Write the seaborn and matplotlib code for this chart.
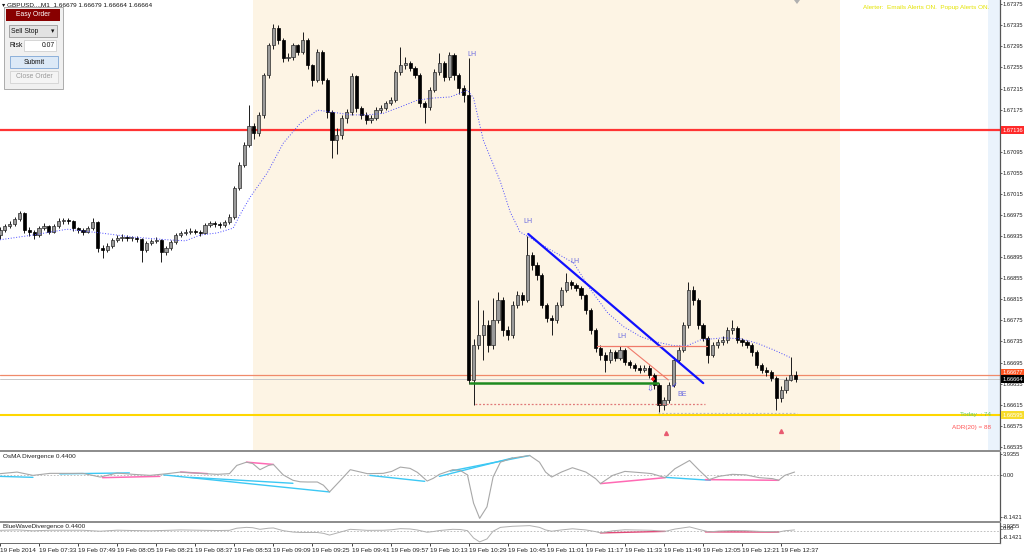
import numpy as np
import pandas as pd
import matplotlib
matplotlib.use("Agg")
import matplotlib.pyplot as plt
import matplotlib.transforms as mtrans
from matplotlib.patches import Rectangle, Polygon
import seaborn as sns

sns.set_style("white")
plt.rcParams['font.family'] = ['Liberation Sans', 'DejaVu Sans']
FS = 4.6
YFS = 4.15

# ---------------- data ----------------
bar_step = 2  # minutes per candle, time measured from 07:17
first_open = 1.66937
closes = [1.66947, 1.66954, 1.66958, 1.66967, 1.66979, 1.66947, 1.66943, 1.66937, 1.66950, 1.66954,
          1.66943, 1.66954, 1.66964, 1.66966, 1.66964, 1.66950, 1.66947, 1.66943, 1.66950, 1.66962,
          1.66912, 1.66909, 1.66916, 1.66928, 1.66931, 1.66933, 1.66931, 1.66931, 1.66929, 1.66909,
          1.66922, 1.66926, 1.66928, 1.66905, 1.66912, 1.66924, 1.66937, 1.66941, 1.66943, 1.66945,
          1.66943, 1.66941, 1.66956, 1.66960, 1.66958, 1.66956, 1.66962, 1.66971, 1.67026, 1.67070,
          1.67108, 1.67144, 1.67130, 1.67165, 1.67240, 1.67297, 1.67330, 1.67307, 1.67273, 1.67275,
          1.67297, 1.67284, 1.67307, 1.67259, 1.67231, 1.67284, 1.67231, 1.67170, 1.67117, 1.67127,
          1.67159, 1.67170, 1.67238, 1.67178, 1.67165, 1.67155, 1.67159, 1.67174, 1.67178, 1.67187,
          1.67193, 1.67246, 1.67259, 1.67263, 1.67254, 1.67240, 1.67187, 1.67180, 1.67212, 1.67246,
          1.67263, 1.67237, 1.67278, 1.67240, 1.67216, 1.67202, 1.66662, 1.66728, 1.66747, 1.66766,
          1.66728, 1.66776, 1.66814, 1.66757, 1.66747, 1.66804, 1.66823, 1.66814, 1.66899, 1.66880,
          1.66861, 1.66804, 1.66780, 1.66776, 1.66804, 1.66833, 1.66848, 1.66842, 1.66837, 1.66823,
          1.66795, 1.66757, 1.66723, 1.66710, 1.66700, 1.66715, 1.66704, 1.66719, 1.66696, 1.66691,
          1.66685, 1.66681, 1.66685, 1.66672, 1.66653, 1.66615, 1.66624, 1.66653, 1.66700, 1.66719,
          1.66766, 1.66833, 1.66814, 1.66766, 1.66742, 1.66710, 1.66728, 1.66734, 1.66738, 1.66757,
          1.66761, 1.66738, 1.66734, 1.66728, 1.66715, 1.66691, 1.66681, 1.66677, 1.66666, 1.66628,
          1.66643, 1.66662, 1.66672, 1.66664]
highs = [1.66952, 1.66958, 1.66963, 1.66971, 1.66983, 1.66981, 1.66952, 1.66946, 1.66954, 1.66960,
         1.66956, 1.66958, 1.66969, 1.66970, 1.66970, 1.66966, 1.66953, 1.66950, 1.66954, 1.66969,
         1.66964, 1.66918, 1.66922, 1.66932, 1.66937, 1.66938, 1.66937, 1.66936, 1.66935, 1.66932,
         1.66926, 1.66930, 1.66933, 1.66930, 1.66917, 1.66928, 1.66941, 1.66945, 1.66948, 1.66950,
         1.66949, 1.66947, 1.66960, 1.66964, 1.66963, 1.66962, 1.66966, 1.66976, 1.67030, 1.67075,
         1.67113, 1.67184, 1.67150, 1.67170, 1.67245, 1.67302, 1.67337, 1.67335, 1.67310, 1.67282,
         1.67302, 1.67300, 1.67322, 1.67310, 1.67262, 1.67290, 1.67288, 1.67235, 1.67175, 1.67140,
         1.67165, 1.67176, 1.67245, 1.67240, 1.67182, 1.67170, 1.67165, 1.67180, 1.67184, 1.67192,
         1.67198, 1.67250, 1.67293, 1.67275, 1.67268, 1.67258, 1.67244, 1.67192, 1.67218, 1.67252,
         1.67282, 1.67268, 1.67285, 1.67282, 1.67245, 1.67222, 1.67273, 1.66740, 1.66814, 1.66795,
         1.66775, 1.66818, 1.66829, 1.66820, 1.66765, 1.66812, 1.66830, 1.66829, 1.66935, 1.66905,
         1.66885, 1.66865, 1.66808, 1.66785, 1.66810, 1.66838, 1.66865, 1.66852, 1.66846, 1.66840,
         1.66826, 1.66798, 1.66760, 1.66728, 1.66715, 1.66720, 1.66718, 1.66727, 1.66722, 1.66700,
         1.66695, 1.66690, 1.66690, 1.66690, 1.66676, 1.66657, 1.66630, 1.66658, 1.66705, 1.66725,
         1.66772, 1.66848, 1.66840, 1.66818, 1.66770, 1.66745, 1.66734, 1.66740, 1.66745, 1.66762,
         1.66776, 1.66765, 1.66742, 1.66738, 1.66732, 1.66718, 1.66695, 1.66686, 1.66680, 1.66670,
         1.66650, 1.66668, 1.66706, 1.66679]
lows = [1.66930, 1.66943, 1.66950, 1.66955, 1.66964, 1.66940, 1.66935, 1.66930, 1.66934, 1.66946,
        1.66938, 1.66940, 1.66950, 1.66958, 1.66958, 1.66945, 1.66940, 1.66937, 1.66940, 1.66947,
        1.66905, 1.66893, 1.66905, 1.66912, 1.66924, 1.66926, 1.66926, 1.66925, 1.66923, 1.66886,
        1.66905, 1.66918, 1.66921, 1.66886, 1.66900, 1.66908, 1.66920, 1.66933, 1.66937, 1.66939,
        1.66938, 1.66936, 1.66938, 1.66952, 1.66953, 1.66951, 1.66953, 1.66958, 1.66968, 1.67022,
        1.67066, 1.67104, 1.67120, 1.67125, 1.67160, 1.67235, 1.67290, 1.67300, 1.67265, 1.67268,
        1.67270, 1.67278, 1.67280, 1.67252, 1.67220, 1.67228, 1.67224, 1.67160, 1.67083, 1.67090,
        1.67120, 1.67150, 1.67165, 1.67170, 1.67158, 1.67148, 1.67150, 1.67155, 1.67168, 1.67174,
        1.67183, 1.67190, 1.67240, 1.67252, 1.67248, 1.67235, 1.67180, 1.67150, 1.67175, 1.67208,
        1.67240, 1.67230, 1.67232, 1.67232, 1.67205, 1.67190, 1.66655, 1.66615, 1.66720, 1.66700,
        1.66715, 1.66720, 1.66770, 1.66745, 1.66738, 1.66742, 1.66798, 1.66805, 1.66810, 1.66870,
        1.66852, 1.66798, 1.66772, 1.66747, 1.66770, 1.66800, 1.66828, 1.66835, 1.66830, 1.66815,
        1.66788, 1.66750, 1.66715, 1.66700, 1.66677, 1.66695, 1.66697, 1.66700, 1.66690, 1.66684,
        1.66679, 1.66675, 1.66677, 1.66665, 1.66645, 1.66602, 1.66605, 1.66618, 1.66648, 1.66695,
        1.66715, 1.66760, 1.66805, 1.66758, 1.66735, 1.66694, 1.66705, 1.66722, 1.66728, 1.66732,
        1.66750, 1.66732, 1.66727, 1.66722, 1.66708, 1.66685, 1.66675, 1.66670, 1.66660, 1.66605,
        1.66620, 1.66638, 1.66660, 1.66658]

# moving average (blue dotted)
ma_t = [0, 13.5, 27.5, 41, 54.5, 68.5, 76, 82, 89, 95.5, 99, 102.5, 109.5, 116, 123, 130, 136.5,
        143.5, 150.5, 157, 164, 171, 177.5, 184.5, 191.5, 194, 198, 205, 209, 213, 218.5, 225.5,
        235, 242, 249, 255.5, 262.5, 269, 276, 281.5, 287, 296.5, 303.5, 310, 317, 324]
ma_p = [1.66928, 1.66937, 1.66948, 1.66941, 1.66933, 1.66928, 1.66926, 1.66937, 1.66941, 1.66950,
        1.66981, 1.67009, 1.67055, 1.67111, 1.67149, 1.67174, 1.67170, 1.67165, 1.67165, 1.67168,
        1.67180, 1.67193, 1.67197, 1.67199, 1.67212, 1.67197, 1.67117, 1.67038, 1.66981, 1.66943,
        1.66928, 1.66909, 1.66884, 1.66833, 1.66789, 1.66763, 1.66744, 1.66734, 1.66727, 1.66727,
        1.66738, 1.66742, 1.66740, 1.66732, 1.66719, 1.66704]

# OsMA divergence oscillator
osma_t = [0, 7, 13.5, 20.5, 27.5, 34, 41, 48, 54.5, 61.5, 68.5, 74, 82, 89, 94, 97, 101, 103.5,
          106.5, 110, 112, 116, 120, 123, 126, 130, 132.5, 135, 139.5, 143.5, 146.5, 150.5, 157,
          160.5, 164, 168, 171, 175, 177.5, 180, 185.5, 188.5, 191.5, 194, 196.5, 199.5, 202, 205,
          210, 217, 221, 223.5, 226, 230, 234.5, 240, 244, 246, 251, 256, 264.5, 267, 272.5, 276.5,
          282.5, 286.5, 290.5, 294.5, 300, 305.5, 311, 316.5, 319, 321.5, 325.5]
osma_v = [0.23, 0.54, -0.10, 0.29, 0.29, 0.29, -0.42, 0.35, 0.10, -0.10, 0.23, 0.54, 0.29, 0.10,
          0.23, 1.82, 2.45, 2.20, 1.00, 1.82, 2.01, 0.00, -1.05, -1.34, -1.38, -1.38, -2.00, -3.30,
          -1.05, 1.00, 0.67, 0.23, 0.29, 0.67, 1.50, 1.25, 0.48, -1.19, -0.67, 0.10, 1.00, 0.86,
          0.00, -5.46, -8.40, -6.17, -0.42, 2.45, 3.26, 3.74, 2.45, 0.54, -0.42, 0.54, 1.38, 0.54,
          -0.73, -1.69, -0.10, 0.67, 0.35, 0.23, -0.54, 1.19, 2.78, 0.86, -0.92, -0.29, 0.10, 0.00,
          -0.54, -0.73, -1.05, -0.10, 0.54]

# divergence trend lines: (t0, v0, t1, v1)
cyan_lines = [(0, -0.29, 13.5, -0.48), (24.5, 0.19, 53, 0.38), (67, 0.0, 135, -3.30),
              (78, -0.48, 120, -1.63), (151.5, -0.10, 174, -1.25), (184.5, 0.73, 217, 3.74),
              (180, -0.29, 210, 3.26), (272.5, -0.48, 291, -1.05)]
pink_lines = [(42, -0.54, 65.5, -0.29), (74, 0.54, 85, 0.23), (101, 2.45, 112, 2.01),
              (246, -1.69, 272.5, -0.54), (289, -0.92, 319, -1.05)]

# price levels
red_level = 1.67136
salmon_level = 1.66672
bid_level = 1.66664
yellow_level = 1.66595
price_ticks = [1.67375, 1.67335, 1.67295, 1.67255, 1.67215, 1.67175, 1.67135, 1.67095, 1.67055,
               1.67015, 1.66975, 1.66935, 1.66895, 1.66855, 1.66815, 1.66775, 1.66735, 1.66695,
               1.66655, 1.66615, 1.66575, 1.66535]
time_ticks = [0, 16, 32, 48, 64, 80, 96, 112, 128, 144, 160, 176, 192, 208, 224, 240, 256, 272,
              288, 304, 320]
time_labels = ["19 Feb 2014", "19 Feb 07:33", "19 Feb 07:49", "19 Feb 08:05", "19 Feb 08:21",
               "19 Feb 08:37", "19 Feb 08:53", "19 Feb 09:09", "19 Feb 09:25", "19 Feb 09:41",
               "19 Feb 09:57", "19 Feb 10:13", "19 Feb 10:29", "19 Feb 10:45", "19 Feb 11:01",
               "19 Feb 11:17", "19 Feb 11:33", "19 Feb 11:49", "19 Feb 12:05", "19 Feb 12:21",
               "19 Feb 12:37"]

# ---------------- layout ----------------
W, H = 1024, 554
def fx(x): return x / W
def fy(y): return 1 - y / H

fig = plt.figure(figsize=(10.24, 5.54), dpi=100)
fig.patch.set_facecolor('white')
ax = fig.add_axes([0, fy(449.5), fx(1000), 449.5 / H])
ax2 = fig.add_axes([0, fy(521), fx(1000), (521 - 451.5) / H], sharex=ax)
ax3 = fig.add_axes([0, fy(543), fx(1000), (543 - 523) / H], sharex=ax)

XMAX = 1000 / 2.441
for a in (ax, ax2, ax3):
    a.set_facecolor('white')
    for s in ('left', 'top', 'bottom'):
        a.spines[s].set_visible(False)
    a.spines['right'].set_color('#555555')
    a.spines['right'].set_linewidth(0.9)
    a.yaxis.tick_right()
    a.tick_params(axis='y', labelsize=YFS, length=1.6, width=0.5, pad=0.4, colors='#222222')
    a.set_xlim(0, XMAX)
    a.set_xlabel('')
    a.set_ylabel('')

# ---------------- price panel ----------------
ax.set_ylim(1.66530, 1.67383)
ax.axvspan(103.6, 344.1, color='#fdf4e4', lw=0, zorder=0)
ax.axvspan(404.8, XMAX, color='#eaf3fc', lw=0, zorder=0)

c = np.array(closes)
o = np.array([first_open] + closes[:-1])
hi = np.array(highs)
lo = np.array(lows)
t = np.arange(len(c)) * bar_step
up = c >= o
body_b = np.minimum(o, c)
body_h = np.maximum(np.abs(c - o), 0.000015)
ax.vlines(t, lo, hi, color='#1a1a1a', lw=0.7, zorder=3)
ax.bar(t[up], body_h[up], bottom=body_b[up], width=1.3, color='#9a9a9a', edgecolor='#2a2a2a',
       lw=0.5, zorder=4)
ax.bar(t[~up], body_h[~up], bottom=body_b[~up], width=1.3, color='#000000', edgecolor='#000000',
       lw=0.5, zorder=4)

sns.lineplot(x=ma_t, y=ma_p, ax=ax, color='#4a4aff', lw=0.7, linestyle=(0, (1.0, 1.8)), zorder=5)

ax.axhline(red_level, color='#ff3333', lw=1.6, zorder=2)
ax.axhline(salmon_level, color='#f08a6a', lw=0.9, zorder=2)
ax.axhline(bid_level, color='#c8c8c8', lw=0.7, zorder=2)
ax.axhline(yellow_level, color='#ffd700', lw=1.5, zorder=2)

# drawn objects
ax.plot([216.4, 288.1], [1.66939, 1.66656], color='#1010ff', lw=1.6, zorder=6)
ax.plot([192.6, 269.7], [1.66657, 1.66657], color='#1e8a1e', lw=1.8, zorder=6)
ax.plot([194.7, 289.0], [1.66616, 1.66616], color='#e07878', lw=0.9, ls=(0, (1.5, 1.5)), zorder=6)
ax.plot([269.7, 326.6], [1.66600, 1.66600], color='#c0c0c0', lw=0.9, ls=(0, (1.5, 1.5)), zorder=6)
ax.plot([244.7, 289.8], [1.66727, 1.66727], color='#f07a6a', lw=0.9, zorder=6)
ax.plot([257.0, 273.8], [1.66725, 1.66662], color='#f07a6a', lw=0.8, zorder=6)

lh_col = '#6a6ae0'
for (xt, yp) in [(193.4, 1.67273), (216.4, 1.66956), (235.7, 1.66880), (254.9, 1.66738)]:
    ax.text(xt, yp, 'LH', color=lh_col, fontsize=FS + 0.4, ha='center', va='bottom', zorder=7)
ax.plot([267.4], [1.66663], marker='+', color='#ff2020', ms=3.5, mew=1.2, zorder=7)
ax.text(266.4, 1.66645, '⇩', family=['DejaVu Sans'], color='#5a5ae8', fontsize=6, ha='center',
        va='center', zorder=7)
ax.text(276.2, 1.66651, '✓', family=['DejaVu Sans'], color='#4a4ae8', fontsize=6, ha='center',
        va='center', zorder=7)
ax.text(277.5, 1.66634, 'BE', color='#6a6ae0', fontsize=FS + 0.4, ha='left', va='center', zorder=7)
ax.plot([273.0, 320.0], [1.66562, 1.66566], ls='none', marker='^', color='#e85a70', ms=2.8,
        zorder=7)

ax.text(406.0, 1.66597, 'Today  : 74', color='#66cc66', fontsize=FS, ha='right', va='center',
        zorder=7)
ax.text(406.0, 1.66571, 'ADR(20) = 88', color='#ff5555', fontsize=FS, ha='right', va='center',
        zorder=7)

ax.set_yticks(price_ticks)
ax.set_yticklabels([f"{v:.5f}" for v in price_ticks])
ax.tick_params(axis='x', bottom=False, labelbottom=False)

btrans = mtrans.blended_transform_factory(ax.transAxes, ax.transData)
def price_box(val, txt, fc, tc):
    ax.text(1.0022, val, txt, transform=btrans, ha='left', va='center', fontsize=YFS, color=tc,
            bbox=dict(boxstyle='square,pad=0.25', fc=fc, ec='none'), clip_on=False, zorder=20)
price_box(red_level, '1.67136', '#ff2a2a', 'white')
price_box(1.66676, '1.66677', '#ff5522', 'white')
price_box(bid_level - 0.00001, '1.66664', '#000000', 'white')
price_box(yellow_level, '1.66595', '#f7dc2a', 'white')

# ---------------- OsMA panel ----------------
ax2.set_ylim(-8.91, 4.51)
ax2.axhline(0, color='#b5b5b5', lw=0.6, ls=(0, (2, 2)), zorder=1)
for (t0, v0, t1, v1) in cyan_lines:
    ax2.plot([t0, t1], [v0, v1], color='#3cc8f4', lw=1.0, zorder=3)
for (t0, v0, t1, v1) in pink_lines:
    ax2.plot([t0, t1], [v0, v1], color='#ff6ab4', lw=1.1, zorder=3)
sns.lineplot(x=osma_t, y=osma_v, ax=ax2, color='#a8a8a8', lw=0.8, zorder=4)
ax2.set_yticks([3.9355, 0.0, -8.1421])
ax2.set_yticklabels(['3.9355', '0.00', '-8.1421'])
ax2.tick_params(axis='x', bottom=False, labelbottom=False)
ax2.text(0.003, 0.96, 'OsMA Divergence 0.4400', transform=ax2.transAxes, fontsize=FS,
         color='#222222', va='top', ha='left')

# ---------------- BlueWave panel ----------------
ax3.set_ylim(-9.2, 5.7)
ax3.axhline(0, color='#b5b5b5', lw=0.6, ls=(0, (2, 2)), zorder=1)
for (t0, v0, t1, v1) in pink_lines[3:]:
    ax3.plot([t0, t1], [v0, v1], color='#e04a78', lw=1.0, zorder=3)
sns.lineplot(x=osma_t, y=osma_v, ax=ax3, color='#b0b0b0', lw=0.7, zorder=4)
ax3.set_yticks([])
for (fr, txt) in [(0.85, '3.9355'), (0.72, '0.00'), (0.27, '-8.1421')]:
    ax3.text(1.0028, fr, txt, transform=ax3.transAxes, fontsize=YFS, color='#222222',
             ha='left', va='center', clip_on=False)
    ax3.plot([1.0, 1.002], [fr, fr], transform=ax3.transAxes, color='#444444', lw=0.5,
             clip_on=False)
ax3.text(0.003, 0.82, 'BlueWaveDivergence 0.4400', transform=ax3.transAxes, fontsize=FS,
         color='#222222', va='center', ha='left')
ax3.set_xticks(time_ticks)
ax3.set_xticklabels(time_labels)
ax3.tick_params(axis='x', bottom=True, labelbottom=True, length=2.5, width=0.6, pad=0.8,
                labelsize=FS, colors='#222222', direction='out')
for lbl in ax3.get_xticklabels():
    lbl.set_ha('left')
ax3.set_xlim(0, XMAX)

# ---------------- separators / chrome ----------------
def frect(x0, y0, x1, y1, **kw):
    r = Rectangle((fx(x0), fy(y1)), (x1 - x0) / W, (y1 - y0) / H, transform=fig.transFigure, **kw)
    fig.add_artist(r)
    return r

frect(0, 449.5, 1001, 451.5, fc='#8e8e8e', ec='none', zorder=6)
frect(0, 521, 1001, 523, fc='#8e8e8e', ec='none', zorder=6)
frect(0, 543, 1001, 544, fc='#6e6e6e', ec='none', zorder=6)

# shift marker
fig.add_artist(Polygon([(fx(794), fy(0)), (fx(800), fy(0)), (fx(797), fy(4))], closed=True,
                       transform=fig.transFigure, fc='#b0b0b0', ec='none', zorder=6))

fig.text(fx(2), fy(4.5), '▾ GBPUSD...,M1  1.66679 1.66679 1.66664 1.66664', fontsize=FS,
         color='#111111', ha='left', va='center', zorder=8)
fig.text(fx(863), fy(7), 'Alerter:  Emails Alerts ON.  Popup Alerts ON.', fontsize=FS,
         color='#e4e400', ha='left', va='center', zorder=8)

# Easy Order panel
EF = 4.9
frect(4, 7, 63, 89, fc='#f0f0f0', ec='#a0a0a0', lw=0.6, zorder=7)
frect(6, 9, 60, 21, fc='#880000', ec='none', zorder=8)
fig.text(fx(33), fy(15), 'Easy Order', fontsize=EF, color='white', ha='center', va='center', zorder=9)
frect(9, 25, 57, 37, fc='#e2e2e2', ec='#8a8a8a', lw=0.5, zorder=8)
fig.text(fx(11), fy(31.5), 'Sell Stop', fontsize=EF, color='#111111', ha='left', va='center', zorder=9)
fig.text(fx(52.5), fy(31.5), '▾', family=['DejaVu Sans'], fontsize=EF, color='#111111', ha='center',
         va='center', zorder=9)
fig.text(fx(9), fy(45.5), 'Risk', fontsize=EF, color='#111111', ha='left', va='center', zorder=9)
frect(24, 40, 56, 51, fc='white', ec='#c8c8c8', lw=0.5, zorder=8)
fig.text(fx(55), fy(45.5), '0.07', fontsize=EF, color='#111111', ha='right', va='center', zorder=9)
frect(10, 56, 58, 68, fc='#dce9f7', ec='#7ea6d6', lw=0.6, zorder=8)
fig.text(fx(34), fy(62), 'Submit', fontsize=EF, color='#111111', ha='center', va='center', zorder=9)
frect(10, 71, 58, 83, fc='#f4f4f4', ec='#cccccc', lw=0.5, zorder=8)
fig.text(fx(34), fy(77), 'Close Order', fontsize=EF, color='#9a9a9a', ha='center', va='center',
         zorder=9)

fig.savefig('out.png', dpi=100, facecolor='white')
